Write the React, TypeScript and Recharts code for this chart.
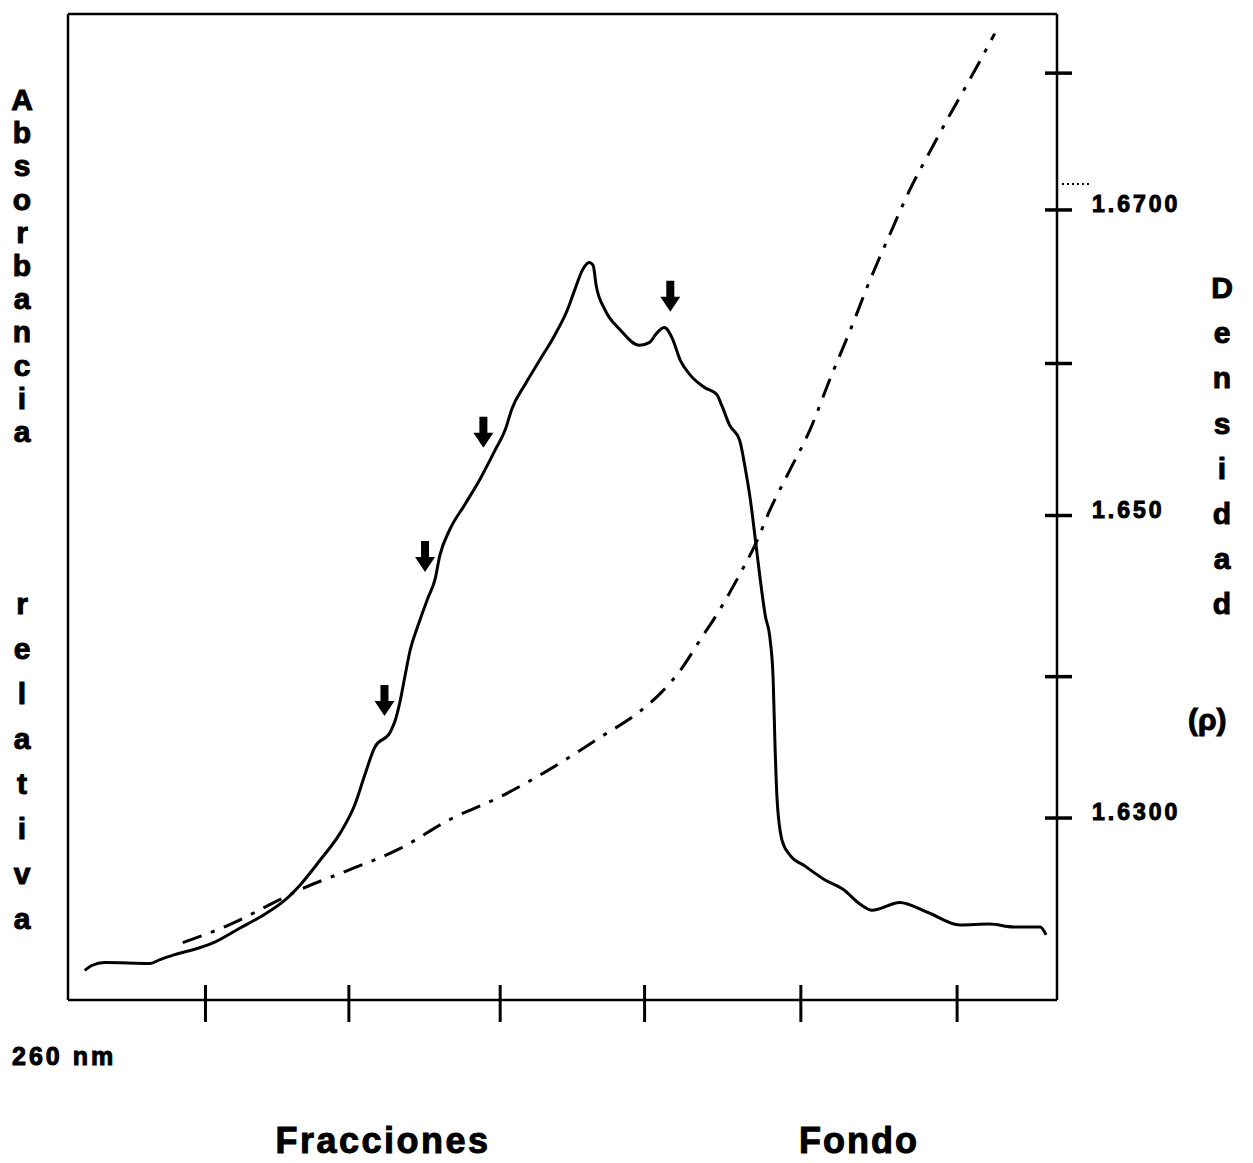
import React from 'react'
import { ComposedChart, Line, XAxis, YAxis, ReferenceDot } from 'recharts'

// Absorbancia relativa (260 nm) a lo largo del gradiente, fracciones 0..100
const absX = [1.7, 2.4, 3.7, 8.3, 9.3, 10.8, 13.3, 14.9, 17.4, 19.9, 21.9, 23.5, 25.5, 27.5, 29.0, 30.0, 31.0, 32.6, 33.1, 33.6, 34.1, 34.6, 35.4, 36.4, 37.1, 37.6, 38.6, 40.1, 41.7, 43.2, 44.2, 44.9, 46.2, 47.7, 49.2, 50.5, 51.3, 52.0, 52.7, 53.1, 53.4, 54.3, 55.8, 57.8, 58.8, 59.5, 60.3, 61.1, 61.9, 62.9, 64.4, 65.6, 66.1, 66.9, 67.9, 68.5, 69.0, 69.5, 70.0, 70.5, 71.0, 71.3, 71.5, 71.7, 72.2, 73.0, 74.5, 76.5, 78.4, 80.1, 81.3, 84.1, 86.9, 90.2, 93.2, 95.6, 98.3, 98.9]
const absY = [3.0, 3.5, 3.8, 3.7, 4.1, 4.6, 5.3, 5.9, 7.3, 8.7, 10.1, 11.7, 14.2, 16.9, 19.8, 22.8, 25.6, 27.2, 28.4, 30.4, 33.0, 35.5, 38.0, 40.8, 42.6, 45.1, 47.7, 50.2, 52.9, 55.8, 57.8, 60.0, 62.4, 64.9, 67.4, 70.0, 72.2, 74.0, 74.8, 74.5, 72.5, 70.0, 68.0, 66.4, 66.7, 67.6, 68.2, 67.1, 64.9, 63.4, 62.1, 61.4, 60.3, 58.3, 56.8, 53.8, 50.7, 46.7, 42.6, 39.0, 36.5, 32.5, 25.4, 20.3, 16.2, 14.7, 13.6, 12.2, 11.2, 9.7, 9.1, 9.9, 8.9, 7.6, 7.7, 7.4, 7.4, 6.6]

// Densidad (rho) del gradiente
const densX = [11.6, 16.4, 20.4, 23.5, 28.5, 33.6, 38.6, 43.7, 48.7, 53.8, 57.8, 59.9, 61.9, 63.9, 65.9, 67.9, 69.5, 71.0, 73.0, 75.0, 77.0, 79.1, 81.1, 83.1, 85.1, 87.2, 89.2, 91.2, 93.7]
const densY = [1.6218, 1.6230, 1.6243, 1.6253, 1.6266, 1.6280, 1.6299, 1.6314, 1.6332, 1.6353, 1.6370, 1.6382, 1.6397, 1.6417, 1.6437, 1.6460, 1.6480, 1.6503, 1.6529, 1.6555, 1.6588, 1.6621, 1.6654, 1.6684, 1.6713, 1.6739, 1.6763, 1.6786, 1.6816]

// marcas de eje
const fractionTicks = [13.9, 28.4, 43.7, 58.3, 74.1, 89.9]
const densityTicks = [1.63, 1.6393, 1.6499, 1.6599, 1.67, 1.679]
const densityLabels = ['1.6300', '', '1.650', '', '1.6700', '']

// flechas (punta sobre la curva)
const arrowX = [32.0, 36.1, 42.0, 60.9]
const arrowY = [28.8, 43.4, 56.0, 69.8]

const absData = absX.map((x, i) => ({ x, abs: absY[i] }))
const densData = densX.map((x, i) => ({ x, rho: densY[i] }))

const W = 1253
const H = 1163
const font = '"Liberation Sans", Arial, sans-serif'
const axisStroke = { stroke: '#000', strokeWidth: 2.5 }

function BottomTick(props: any) {
  const { x, y } = props
  return <line x1={x} x2={x} y1={y - 15} y2={y + 22} stroke="#000" strokeWidth={3} />
}

function RightTick(props: any) {
  const { x, y, index } = props
  const label = densityLabels[index]
  return (
    <g>
      <line x1={x - 12} x2={x + 15} y1={y} y2={y} stroke="#000" strokeWidth={3.5} />
      {index === 4 && (
        <line x1={x + 5} x2={x + 33} y1={y - 26} y2={y - 26} stroke="#000" strokeWidth={2} strokeDasharray="2 3" />
      )}
      {label && (
        <text x={x + 35} y={y + 2} fontFamily={font} fontWeight="bold" fontSize={23} letterSpacing={3} fill="#000" stroke="#000" strokeWidth={1}>
          {label}
        </text>
      )}
    </g>
  )
}

function Arrow(props: any) {
  const { cx, cy } = props
  if (cx == null || cy == null) return null
  const d = `M${cx - 4},${cy - 31} L${cx + 4},${cy - 31} L${cx + 4},${cy - 15} L${cx + 10},${cy - 15} L${cx},${cy} L${cx - 10},${cy - 15} L${cx - 4},${cy - 15} Z`
  return <path d={d} fill="#000" />
}

const leftWord1 = 'Absorbancia'.split('')
const leftWord2 = 'relativa'.split('')
const rightWord = 'Densidad'.split('')

const heavy: React.CSSProperties = {
  position: 'absolute',
  fontFamily: font,
  fontWeight: 'bold',
  color: '#000',
  WebkitTextStroke: '1px #000',
}

const letter: React.CSSProperties = {
  ...heavy,
  fontSize: 30,
  lineHeight: '30px',
  width: 30,
  textAlign: 'center',
}

export default function App() {
  return (
    <div style={{ position: 'absolute', left: 0, top: 0, width: W, height: H, background: '#fff' }}>
      <ComposedChart width={W} height={H} margin={{ top: 13, right: 195, bottom: 162, left: 67 }}>
        <XAxis
          xAxisId="b"
          dataKey="x"
          type="number"
          domain={[0, 100]}
          allowDataOverflow
          height={1}
          ticks={fractionTicks}
          interval={0}
          tickSize={0}
          tickMargin={0}
          tickLine={false}
          tick={<BottomTick />}
          axisLine={axisStroke}
        />
        <XAxis xAxisId="t" orientation="top" type="number" domain={[0, 100]} height={1} tick={false} tickLine={false} axisLine={axisStroke} />
        <YAxis yAxisId="abs" type="number" domain={[0, 100]} width={1} tick={false} tickLine={false} axisLine={axisStroke} />
        <YAxis
          yAxisId="rho"
          orientation="right"
          type="number"
          domain={[1.61803, 1.68289]}
          allowDataOverflow
          width={1}
          ticks={densityTicks}
          interval={0}
          tickSize={0}
          tickMargin={0}
          tickLine={false}
          tick={<RightTick />}
          axisLine={axisStroke}
        />
        <Line
          xAxisId="b"
          yAxisId="abs"
          data={absData}
          dataKey="abs"
          type="monotone"
          stroke="#000"
          strokeWidth={3}
          dot={false}
          isAnimationActive={false}
        />
        <Line
          xAxisId="b"
          yAxisId="rho"
          data={densData}
          dataKey="rho"
          type="monotone"
          stroke="#000"
          strokeWidth={3}
          strokeDasharray="20 10 4 10"
          dot={false}
          isAnimationActive={false}
        />
        {arrowX.map((x, i) => (
          <ReferenceDot key={i} xAxisId="b" yAxisId="abs" x={x} y={arrowY[i]} r={0} shape={<Arrow />} />
        ))}
      </ComposedChart>

      {leftWord1.map((c, i) => (
        <div key={'a' + i} style={{ ...letter, left: 7, top: 85 + i * 33.2 }}>{c}</div>
      ))}
      {leftWord2.map((c, i) => (
        <div key={'r' + i} style={{ ...letter, left: 7, top: 589 + i * 45 }}>{c}</div>
      ))}
      {rightWord.map((c, i) => (
        <div key={'d' + i} style={{ ...letter, left: 1207, top: 273 + i * 45.2 }}>{c}</div>
      ))}
      <div style={{ ...letter, left: 1188, top: 705, width: 65, textAlign: 'left' }}>(ρ)</div>
      <div style={{ ...heavy, left: 12, top: 1042, fontSize: 25, letterSpacing: 3 }}>260 nm</div>
      <div style={{ ...heavy, left: 383 - 150, top: 1120, width: 300, textAlign: 'center', fontSize: 36, letterSpacing: 2.5 }}>Fracciones</div>
      <div style={{ ...heavy, left: 859 - 100, top: 1120, width: 200, textAlign: 'center', fontSize: 36, letterSpacing: 2 }}>Fondo</div>
    </div>
  )
}
